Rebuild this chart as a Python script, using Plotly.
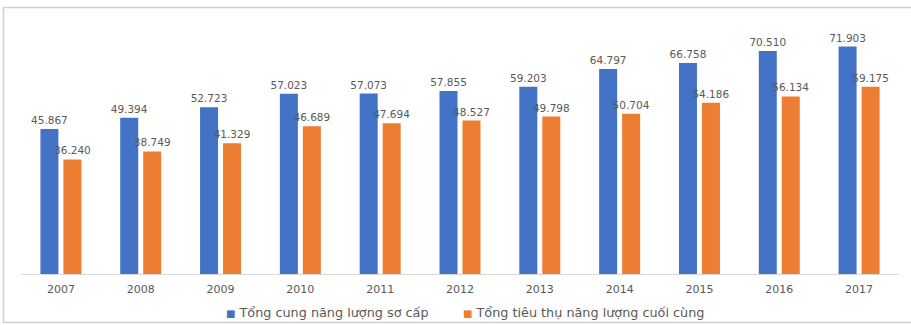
import plotly.graph_objects as go

years = ["2007", "2008", "2009", "2010", "2011", "2012", "2013", "2014", "2015", "2016", "2017"]
primary_supply = [45.867, 49.394, 52.723, 57.023, 57.073, 57.855, 59.203, 64.797, 66.758, 70.510, 71.903]
final_consumption = [36.240, 38.749, 41.329, 46.689, 47.694, 48.527, 49.798, 50.704, 54.186, 56.134, 59.175]
series_names = ["Tổng cung năng lượng sơ cấp", "Tổng tiêu thụ năng lượng cuối cùng"]
colors = ["#4472C4", "#ED7D31"]

W, H = 911, 325
L, R, T, B = 21, 12, 21, 51
pw, ph = W - L - R, H - T - B


def px_x(x):
    return (x - L) / pw


def px_y(y):
    return (H - B - y) / ph


def fmt(v):
    return f"{v:.3f}"


fig = go.Figure()
for name, vals, col in zip(series_names, [primary_supply, final_consumption], colors):
    fig.add_trace(go.Bar(
        x=years, y=vals, name=name, marker=dict(color=col, line=dict(width=0)),
        text=[fmt(v) for v in vals], textposition="outside", cliponaxis=False,
        constraintext="none",
        textfont=dict(family="DejaVu Sans", size=10.5, color="#595959"),
        showlegend=False,
    ))

annotations = []
legend_x = [224, 461]
for name, col, lx in zip(series_names, colors, legend_x):
    annotations.append(dict(
        xref="paper", yref="paper", x=px_x(lx), y=px_y(312), xanchor="left", yanchor="middle",
        showarrow=False,
        text=f'<span style="color:{col};font-size:10px">■</span> {name}',
        font=dict(family="DejaVu Sans", size=12.8, color="#595959"),
    ))

shapes = [dict(
    type="rect", xref="paper", yref="paper",
    x0=px_x(3.5), x1=px_x(914), y0=px_y(322.5), y1=px_y(7.5),
    line=dict(color="#d0d0d0", width=1.5), fillcolor="rgba(0,0,0,0)", layer="below",
)]

fig.update_layout(
    width=W, height=H, margin=dict(l=L, r=R, t=T, b=B),
    paper_bgcolor="white", plot_bgcolor="white",
    barmode="group", bargap=0.424, bargroupgap=0.217,
    annotations=annotations, shapes=shapes,
    font=dict(family="DejaVu Sans", color="#595959"),
    xaxis=dict(showline=True, linecolor="#d9d9d9", linewidth=1, showgrid=False,
               ticks="outside", ticklen=5, tickcolor="rgba(0,0,0,0)",
               tickfont=dict(family="DejaVu Sans", size=11, color="#595959")),
    yaxis=dict(range=[0, 80], showticklabels=False, showgrid=False, zeroline=False, showline=False),
)

fig.write_html("out.html")
